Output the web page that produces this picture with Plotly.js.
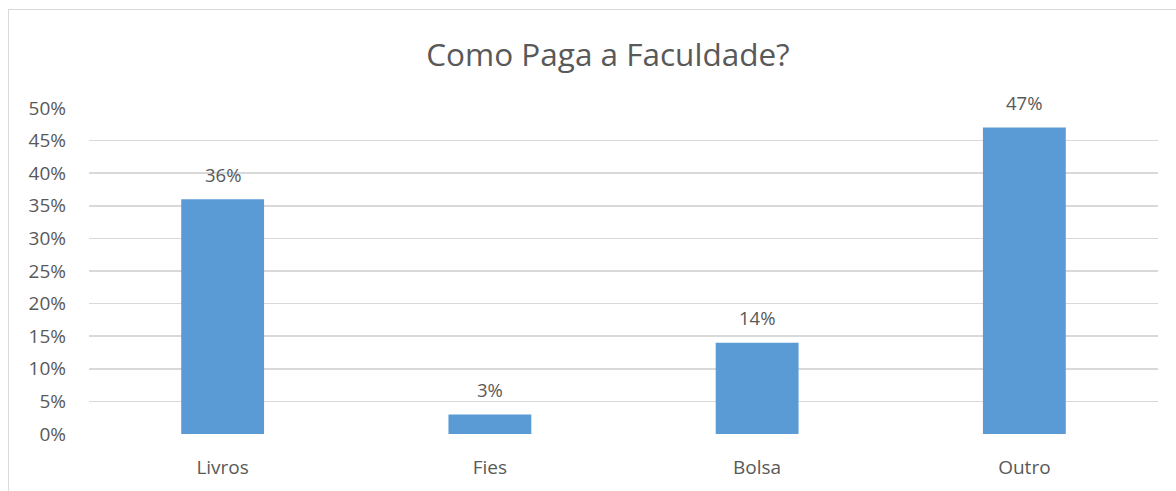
<!DOCTYPE html>
<html>
<head>
<meta charset="utf-8">
<script src="https://cdn.plot.ly/plotly-3.0.1.min.js"></script>
<style>
html,body{margin:0;padding:0;background:#fff;overflow:hidden;}
#frame{position:absolute;left:8px;top:9px;width:1200px;height:520px;border:1px solid #d9d9d9;box-sizing:border-box;}
#chart{position:absolute;left:0;top:0;width:1176px;height:491px;}
</style>
</head>
<body>
<div id="frame"></div>
<div id="chart"></div>
<script>
const categories = ["Livros", "Fies", "Bolsa", "Outro"];
const values = [0.36, 0.03, 0.14, 0.47];
const labels = ["36%", "3%", "14%", "47%"];
const yTicks = [0, 0.05, 0.10, 0.15, 0.20, 0.25, 0.30, 0.35, 0.40, 0.45, 0.50];
const yTickText = ["0%", "5%", "10%", "15%", "20%", "25%", "30%", "35%", "40%", "45%", "50%"];

const font = "'Open Sans', 'Noto Sans', sans-serif";
const grey = "#595959";

const trace = {
  type: "bar",
  x: categories,
  y: values,
  marker: {color: "#5b9bd5"},
  width: 0.31,
  hoverinfo: "none"
};

const annotations = categories.map((c, i) => ({
  x: c, y: values[i], xref: "x", yref: "y",
  text: labels[i], showarrow: false,
  yshift: 25,
  font: {family: font, size: 18.5, color: grey}
}));

const layout = {
  width: 1176, height: 491,
  margin: {l: 89, r: 18, t: 108, b: 57},
  paper_bgcolor: "rgba(0,0,0,0)",
  plot_bgcolor: "rgba(0,0,0,0)",
  title: {text: "Como Paga a Faculdade?", x: 0.517, xanchor: "center", y: 0.888, yanchor: "middle",
          font: {family: font, size: 31.5, color: grey}},
  showlegend: false,
  bargap: 0.69,
  xaxis: {
    type: "category",
    showgrid: false, zeroline: false, showline: false,
    ticks: "",
    tickfont: {family: font, size: 19, color: grey},
    ticklabelstandoff: 20
  },
  yaxis: {
    range: [0, 0.5],
    tickvals: yTicks, ticktext: yTickText,
    showgrid: true, gridcolor: "#d9d9d9", gridwidth: 1.5,
    zeroline: false, showline: false, ticks: "",
    tickfont: {family: font, size: 19, color: grey},
    ticklabelstandoff: 22
  },
  annotations: annotations
};

Plotly.newPlot("chart", [trace], layout, {staticPlot: true});
</script>
</body>
</html>
